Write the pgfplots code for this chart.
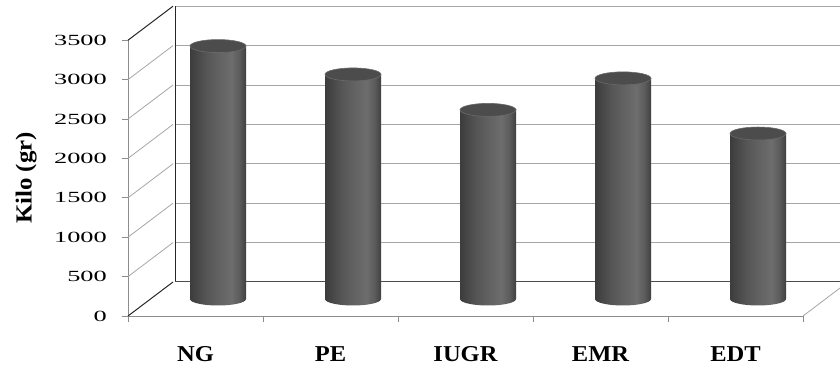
\documentclass[border=0pt]{standalone}
\usepackage{fontspec}
\setmainfont{Liberation Serif}
\newfontfamily\labelfont{Liberation Serif}[FakeStretch=1.08]
\newfontfamily\tickfont{Liberation Serif}[FakeStretch=1.7]
\usepackage{pgfplots}
\usepackage{pgfplotstable}
\pgfplotsset{compat=1.18}

\definecolor{cylA}{HTML}{3C3C3C}
\definecolor{cylB}{HTML}{565656}
\definecolor{cylF}{HTML}{656565}
\definecolor{cylC}{HTML}{6D6D6D}
\definecolor{cylE}{HTML}{5C5C5C}
\definecolor{cylD}{HTML}{404040}
\definecolor{cyltopfill}{HTML}{4C4C4C}
\definecolor{cylrim}{HTML}{6A6A6A}
\definecolor{gridgray}{HTML}{A6A6A6}
\definecolor{axisgray}{HTML}{8C8C8C}

% horizontal light falloff across a cylinder body
\pgfdeclarehorizontalshading{cylinder}{100bp}{color(0bp)=(cylA); color(25bp)=(cylA); color(40bp)=(cylB); color(54bp)=(cylF); color(62bp)=(cylC); color(69bp)=(cylE); color(75bp)=(cylD); color(100bp)=(cylD)}

% rounded foot of a cylinder (lower half of the base ellipse)
\pgfdeclareplotmark{cylbase}{%
  \pgfpathmoveto{\pgfqpoint{-28bp}{0pt}}%
  \pgfpatharc{180}{360}{28bp and 6.5bp}%
  \pgfpathclose
  \pgfshadepath{cylinder}{0}\pgfusepath{discard}}
% flat top face of a cylinder
\pgfdeclareplotmark{cyltop}{%
  \pgfpathellipse{\pgfpointorigin}{\pgfqpoint{28bp}{0pt}}{\pgfqpoint{0pt}{6.5bp}}%
  \pgfsetfillcolor{cyltopfill}\pgfsetstrokecolor{cylrim}\pgfsetlinewidth{0.6pt}%
  \pgfusepath{fill,stroke}}

\pgfplotstableread{
idx value
0 3210
1 2850
2 2400
3 2800
4 2100
}\weights

\begin{document}
\begin{tikzpicture}
\path[use as bounding box, clip] (0,0) rectangle (840bp,373bp);

% back wall with grid
\begin{axis}[at={(175bp,91bp)}, anchor=south west,
  x=135bp, y=0.0788bp, xmin=-0.5, xmax=4.5, ymin=0, ymax=3500,
  axis line style={draw=none}, xtick=\empty,
  ytick={500,1000,...,3500}, yticklabels={}, major tick length=0pt,
  ymajorgrids, major grid style={gridgray, line width=0.8bp},
  clip=false]
\draw[black!85, line width=1bp] (axis cs:-0.5,3500) -- (axis cs:-0.5,0);
\draw[black!70, line width=1bp] (axis cs:-0.5,0) -- (axis cs:4.5,0);
\end{axis}

% cylinders, standing at mid depth
\begin{axis}[at={(150.5bp,74bp)}, anchor=south west,
  x=135bp, y=0.0788bp, xmin=-0.5, xmax=4.5, ymin=0, ymax=3500,
  hide axis, clip=false]
\addplot[only marks, mark=cylbase] coordinates {(0,0) (1,0) (2,0) (3,0) (4,0)};
\pgfplotsinvokeforeach{0,...,4}{
  \addplot[ybar, bar width=56bp, bar shift=0pt, draw=none, shade, shading=cylinder]
    table[x=idx, y=value, restrict x to domain=#1:#1]{\weights};
}
\addplot[only marks, mark=cyltop] table[x=idx, y=value]{\weights};
\end{axis}

% front axes, labels and side wall
\begin{axis}[at={(128bp,57bp)}, anchor=south west,
  x=135bp, y=0.0788bp, xmin=-0.5, xmax=4.5, ymin=0, ymax=3500,
  axis x line=bottom, axis y line=left,
  axis line style={axisgray, line width=0.8bp, -},
  tick align=outside, major tick length=6bp,
  tick style={axisgray, line width=0.8bp},
  ytick={0,500,...,3500},
  /pgf/number format/assume math mode=true,
  /pgf/number format/1000 sep={},
  yticklabel style={font=\tickfont\fontsize{15.5bp}{16bp}\selectfont,
    anchor=east, inner xsep=0pt, xshift=-15bp},
  xtick={-0.5,0.5,...,4.5}, xticklabels={},
  extra x ticks={0,1,2,3,4},
  extra x tick labels={NG,PE,IUGR,EMR,EDT},
  extra x tick style={major tick length=0pt,
    xticklabel style={font=\labelfont\bfseries\fontsize{22.7bp}{24bp}\selectfont,
      anchor=center, yshift=-38.5bp}},
  ylabel={Kilo (gr)},
  ylabel style={font=\labelfont\bfseries\fontsize{23bp}{24bp}\selectfont,
    at={(axis description cs:-0.151,0.5)}, anchor=center},
  clip=false]
\pgfplotsinvokeforeach{500,1000,...,3000}{
  \draw[gridgray, line width=0.8bp] (axis cs:-0.5,#1) -- ++(45bp,34bp);
}
\draw[black!85, line width=1bp] (axis cs:-0.5,0) -- ++(45bp,34bp);
\draw[black!85, line width=1bp] (axis cs:-0.5,3500) -- ++(45bp,34bp);
\draw[gridgray, line width=0.8bp] (axis cs:4.5,0) -- ++(45bp,34bp);
\end{axis}
\end{tikzpicture}
\end{document}
